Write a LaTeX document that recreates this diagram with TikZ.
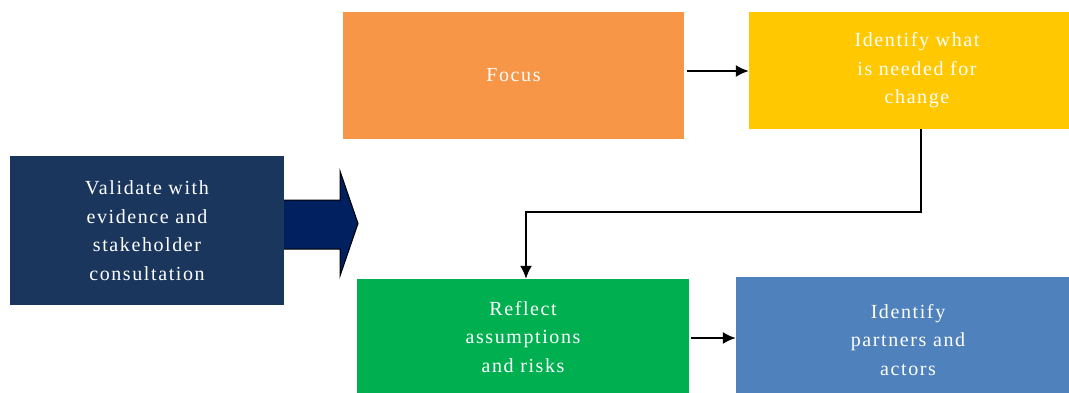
\documentclass[tikz,border=0pt]{standalone}
\usepackage{fontspec}
\setmainfont{Liberation Serif}[LetterSpace=8]
\usetikzlibrary{arrows.meta,calc}
\definecolor{navybox}{HTML}{1B365D}
\definecolor{navyarrow}{HTML}{002060}
\definecolor{orangebox}{HTML}{F79646}
\definecolor{yellowbox}{HTML}{FFC800}
\definecolor{greenbox}{HTML}{00B050}
\definecolor{bluebox}{HTML}{4F81BD}
\tikzset{
  x=1pt,y=-1pt,
  stepbox/.style={rectangle,inner sep=0pt,draw=none,text=white,align=center,
    font=\fontsize{20}{28.5}\selectfont},
  conn/.style={line width=1.8pt,-{Latex[length=13pt,width=12pt]}}
}
\begin{document}
\begin{tikzpicture}
\useasboundingbox (0,0) rectangle (1069,392);
% boxes
\node[stepbox,fill=navybox,minimum width=274pt,minimum height=149pt] (val) at (147,230.5)
  {Validate with\\evidence and\\stakeholder\\consultation};
\node[stepbox,fill=orangebox,minimum width=341pt,minimum height=127pt] (focus) at (513.5,75.5) {Focus};
\node[stepbox,fill=yellowbox,minimum width=336pt,minimum height=117pt] (need) at (917,70.5)
  {Identify what\\is needed for\\change};
\node[stepbox,fill=greenbox,minimum width=332pt,minimum height=116pt] (refl) at (523,337)
  {Reflect\\assumptions\\and risks};
\node[stepbox,fill=bluebox,minimum width=344pt,minimum height=126pt] (part) at (908,340)
  {Identify\\partners and\\actors};
% block arrow
\draw[fill=navyarrow,draw=black,line width=1pt]
  (val.east |- 0,200) -- (340,200) -- (340,171) -- (358,223.5) -- (340,276) -- (340,249) -- (val.east |- 0,249);
% connectors
\draw[conn] ($(focus.east |- 0,71)+(3,0)$) -- (need.west |- 0,71);
\draw[conn] ($(refl.east |- 0,338)+(2,0)$) -- (part.west |- 0,338);
\coordinate (bend) at (921,212);
\draw[conn] (921,0 |- need.south) -- (bend) -- (526,212) -- (refl.north -| 526,0);
\end{tikzpicture}
\end{document}
